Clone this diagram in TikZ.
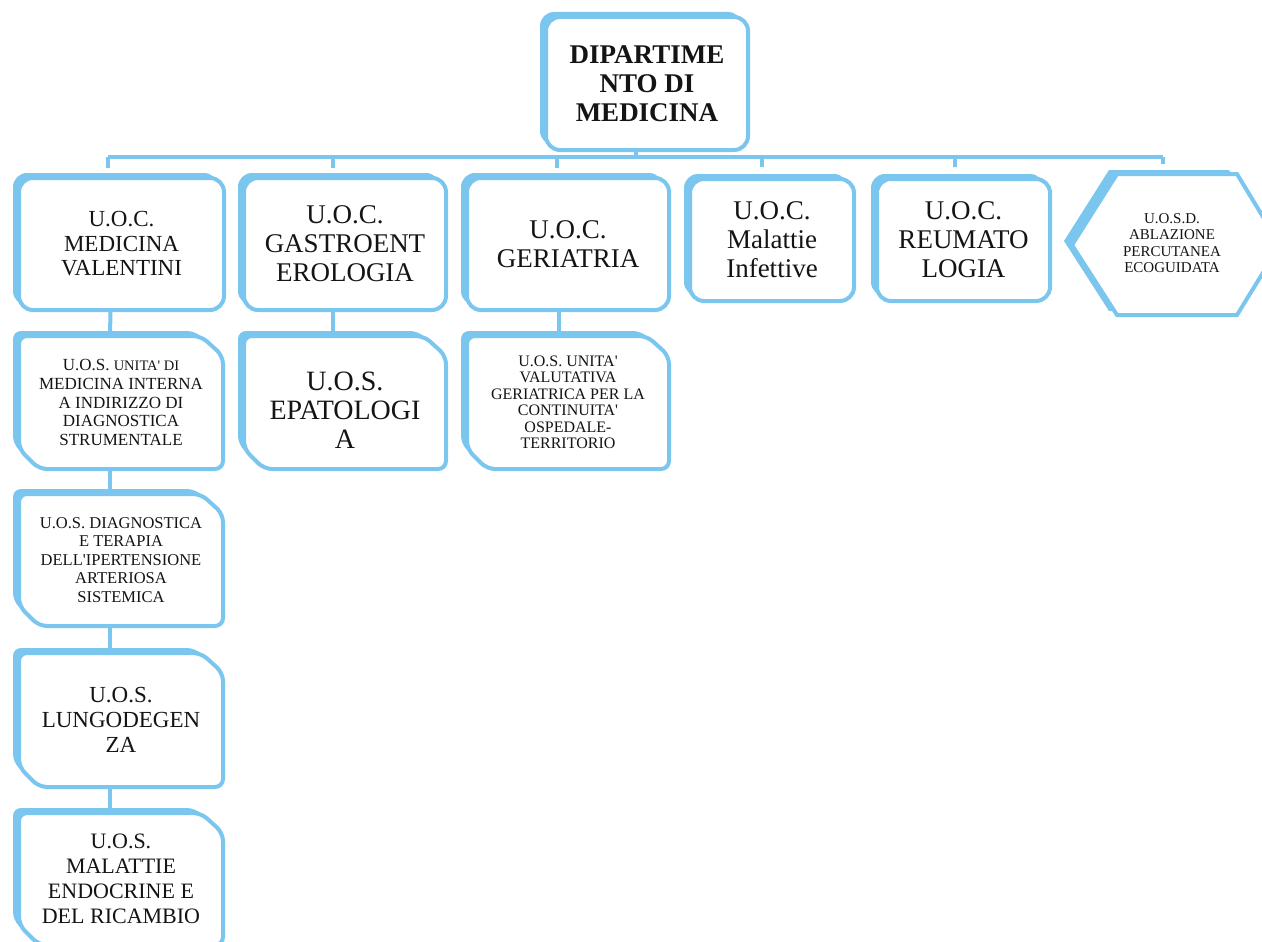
\documentclass[tikz,border=0pt]{standalone}
\usepackage{fontspec}
\setmainfont{Liberation Serif}
\usetikzlibrary{calc}
\definecolor{boxblue}{RGB}{122,198,238}
\pgfdeclarelayer{background}
\pgfsetlayers{background,main}
\newcommand{\ap}{\textquotesingle}
% rounded box drawn round a named node
\newcommand{\rndbox}[1]{%
  \begin{pgfonlayer}{background}
    \fill[boxblue, rounded corners=14pt] ([xshift=-6pt,yshift=5pt]#1.north west) rectangle ([xshift=-6pt,yshift=5pt]#1.south east);
    \filldraw[boxframe, rounded corners=14pt] (#1.north west) rectangle (#1.south east);
  \end{pgfonlayer}}
% snipped box path
\newcommand{\snippath}[3]{([xshift=#2,yshift=#3,yshift=20pt]#1.south west) -- ([xshift=#2,yshift=#3]#1.north west) -- ([xshift=#2,yshift=#3,xshift=-22pt]#1.north east) -- ([xshift=#2,yshift=#3,yshift=-20pt]#1.north east) -- ([xshift=#2,yshift=#3]#1.south east) -- ([xshift=#2,yshift=#3,xshift=20pt]#1.south west) -- cycle}
\newcommand{\snipbox}[1]{%
  \begin{pgfonlayer}{background}
    \fill[boxblue, rounded corners=8pt] \snippath{#1}{-6pt}{5pt};
    \filldraw[boxframe, rounded corners=8pt] \snippath{#1}{0pt}{0pt};
  \end{pgfonlayer}}
\newcommand{\hexpath}[3]{([xshift=#2,yshift=#3,xshift=-100pt,yshift=-2pt]#1.center) -- ([xshift=#2,yshift=#3,xshift=-55pt,yshift=69pt]#1.center) -- ([xshift=#2,yshift=#3,xshift=65pt,yshift=69pt]#1.center) -- ([xshift=#2,yshift=#3,xshift=108pt,yshift=-2pt]#1.center) -- ([xshift=#2,yshift=#3,xshift=65pt,yshift=-72pt]#1.center) -- ([xshift=#2,yshift=#3,xshift=-55pt,yshift=-72pt]#1.center) -- cycle}
\tikzset{
  boxframe/.style={fill=white, draw=boxblue, line width=4pt},
  txt/.style={inner sep=0pt, outer sep=0pt, align=center, text=black!92},
  conn/.style={draw=boxblue, line width=4pt},
}
\begin{document}
\begin{tikzpicture}[x=1pt,y=-1pt]
\useasboundingbox (0,0) rectangle (1262,942);

% top node
\node[txt, minimum width=202pt, minimum height=133pt, font=\fontsize{27}{29}\selectfont\bfseries] (top) at (647,83.5) {DIPARTIME\\NTO DI\\MEDICINA};
\rndbox{top}

% first row
\node[txt, minimum width=205pt, minimum height=132pt, font=\fontsize{23}{24.5}\selectfont] (c1) at (121.5,244) {U.O.C.\\MEDICINA\\VALENTINI};
\rndbox{c1}
\node[txt, minimum width=202pt, minimum height=132pt, font=\fontsize{27}{29}\selectfont] (c2) at (345,244) {U.O.C.\\GASTROENT\\EROLOGIA};
\rndbox{c2}
\node[txt, minimum width=202pt, minimum height=132pt, font=\fontsize{27}{29}\selectfont] (c3) at (568,244) {U.O.C.\\GERIATRIA};
\rndbox{c3}
\node[txt, minimum width=164pt, minimum height=122pt, font=\fontsize{27}{29}\selectfont] (c4) at (772,240) {U.O.C.\\Malattie\\Infettive};
\rndbox{c4}
\node[txt, minimum width=173pt, minimum height=122pt, font=\fontsize{27}{29}\selectfont] (c5) at (963.5,240) {U.O.C.\\REUMATO\\LOGIA};
\rndbox{c5}
\node[txt, font=\fontsize{15}{16.5}\selectfont] (hx) at (1172,243) {U.O.S.D.\\ABLAZIONE\\PERCUTANEA\\ECOGUIDATA};
\coordinate (hxtop) at (1172,174);
\begin{pgfonlayer}{background}
  \fill[boxblue] \hexpath{hx}{-8pt}{4pt};
  \filldraw[boxframe] \hexpath{hx}{0pt}{0pt};
\end{pgfonlayer}

% second row
\node[txt, minimum width=204pt, minimum height=133pt, font=\fontsize{17}{18.8}\selectfont] (u1) at (121,402.5) {U.O.S. {\fontsize{14.5}{18.8}\selectfont UNITA\ap{} DI}\\MEDICINA INTERNA\\A INDIRIZZO DI\\DIAGNOSTICA\\STRUMENTALE};
\snipbox{u1}
\node[txt, minimum width=202pt, minimum height=133pt, font=\fontsize{28}{29}\selectfont] (u2) at (345,402.5) {\rule{0pt}{33pt}U.O.S.\\EPATOLOGI\\A};
\snipbox{u2}
\node[txt, minimum width=202pt, minimum height=133pt, font=\fontsize{16}{16.5}\selectfont] (u3) at (568,402.5) {U.O.S. UNITA\ap\\VALUTATIVA\\GERIATRICA PER LA\\CONTINUITA\ap\\OSPEDALE-\\TERRITORIO};
\snipbox{u3}

% first column
\node[txt, minimum width=204pt, minimum height=132pt, font=\fontsize{16.5}{18.5}\selectfont] (d1) at (121,560) {U.O.S. DIAGNOSTICA\\E TERAPIA\\DELL\ap IPERTENSIONE\\ARTERIOSA\\SISTEMICA};
\snipbox{d1}
\node[txt, minimum width=204pt, minimum height=134pt, font=\fontsize{23}{25}\selectfont] (d2) at (121,720) {U.O.S.\\LUNGODEGEN\\ZA};
\snipbox{d2}
\node[txt, minimum width=204pt, minimum height=132pt, font=\fontsize{22}{25}\selectfont] (d3) at (121,879) {U.O.S.\\MALATTIE\\ENDOCRINE E\\DEL RICAMBIO};
\snipbox{d3}

% bus
\coordinate (bL) at (108,157);
\coordinate (b2) at (333,157);
\coordinate (b3) at (557,157);
\coordinate (b4) at (762,157);
\coordinate (b5) at (955,157);
\coordinate (bR) at (1163,157);
\begin{pgfonlayer}{background}
\draw[conn] (bL) -- (bR);
\draw[conn] ([xshift=-11pt]top.south) -- ([xshift=-11pt]top.south |- bL);
\draw[conn, shorten >=10pt] (bL) -- (bL |- c1.north);
\draw[conn, shorten >=10pt] (b2) -- (b2 |- c2.north);
\draw[conn, shorten >=10pt] (b3) -- (b3 |- c3.north);
\draw[conn, shorten >=12pt] (b4) -- (b4 |- c4.north);
\draw[conn, shorten >=12pt] (b5) -- (b5 |- c5.north);
\draw[conn, shorten >=10pt] (bR) -- (bR |- hxtop);
\end{pgfonlayer}

% vertical chains
\begin{pgfonlayer}{background}
\draw[conn] ([xshift=-11pt]c1.south) -- ([xshift=-11pt]u1.north);
\draw[conn] ([xshift=-12pt]c2.south) -- ([xshift=-12pt]u2.north);
\draw[conn] ([xshift=-9pt]c3.south) -- ([xshift=-9pt]u3.north);
\draw[conn] ([xshift=-11pt]u1.south) -- ([xshift=-11pt]d1.north);
\draw[conn] ([xshift=-11pt]d1.south) -- ([xshift=-11pt]d2.north);
\draw[conn] ([xshift=-11pt]d2.south) -- ([xshift=-11pt]d3.north);
\end{pgfonlayer}
\end{tikzpicture}
\end{document}
